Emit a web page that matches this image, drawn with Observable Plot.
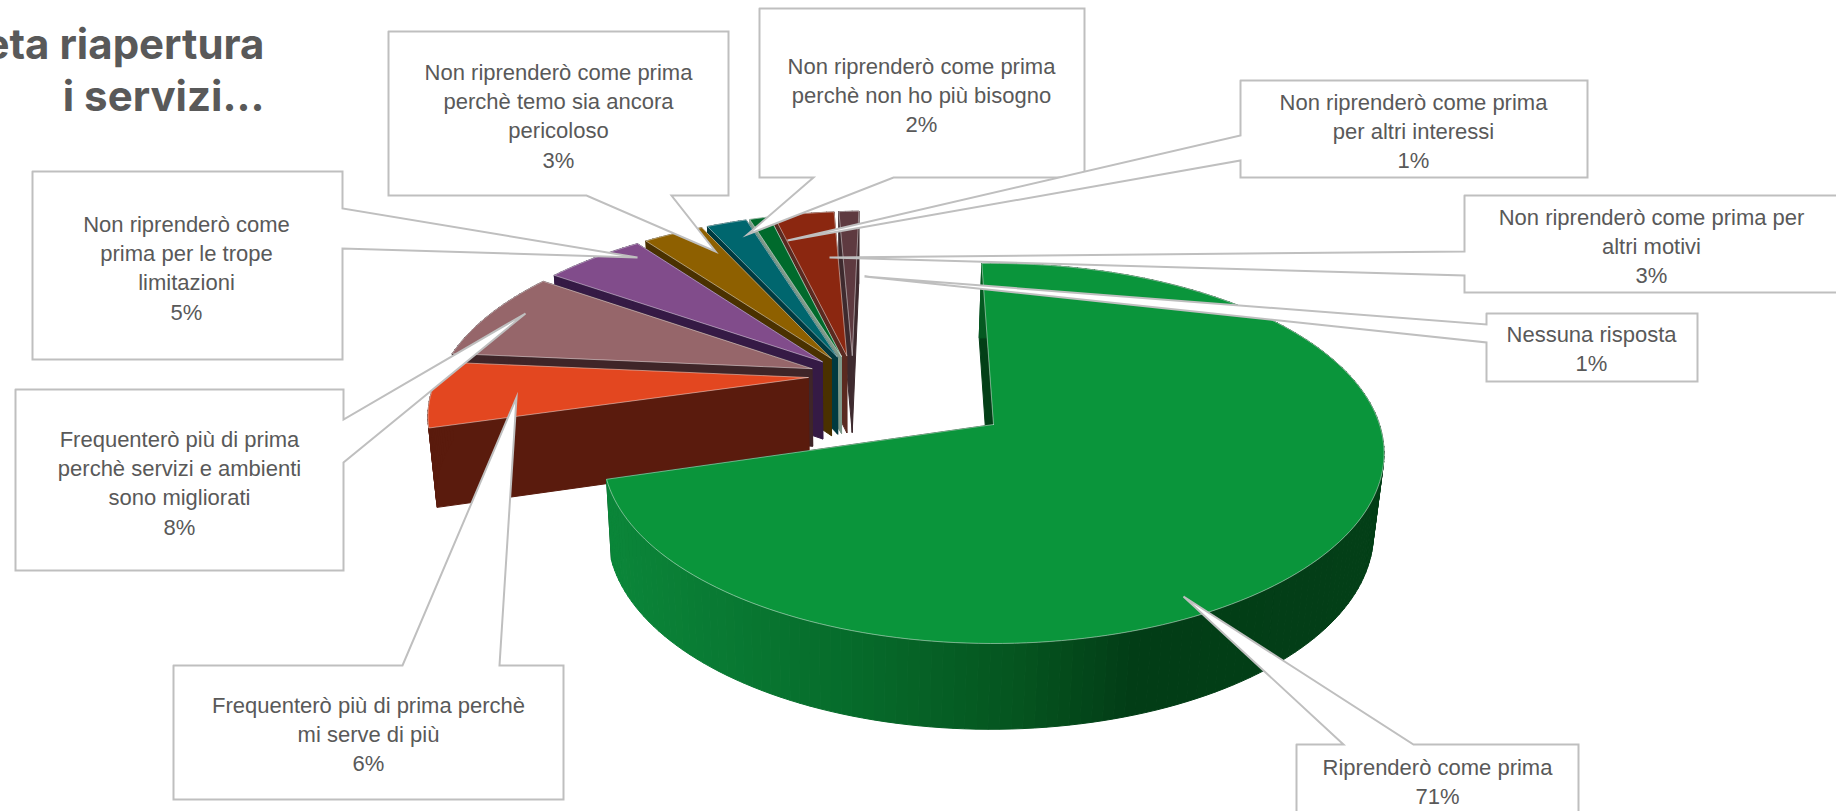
<!DOCTYPE html>
<html><head><meta charset="utf-8">
<style>html,body{margin:0;padding:0;background:#fff;overflow:hidden}svg{display:block}</style>
<script src="https://cdn.jsdelivr.net/npm/d3@7"></script>
<script src="https://cdn.jsdelivr.net/npm/@observablehq/plot@0.6"></script>
</head><body><div id="chart"></div>
<script>
// DATA
const categories = [
  "Riprenderò come prima",
  "Frequenterò più di prima perchè\nmi serve di più",
  "Frequenterò più di prima\nperchè servizi e ambienti\nsono migliorati",
  "Non riprenderò come\nprima per le trope\nlimitazioni",
  "Non riprenderò come prima\nperchè temo sia ancora\npericoloso",
  "Non riprenderò come prima\nperchè non ho più bisogno",
  "Non riprenderò come prima\nper altri interessi",
  "Non riprenderò come prima per\naltri motivi",
  "Nessuna risposta"
];
const values = [71, 6, 8, 5, 3, 2, 1, 3, 1];
const titleLines = ["eta riapertura", "i servizi..."];

// STYLE
const faceColors = ["#0A953B","#E34720","#96666A","#814C8B","#8E6000","#00666E","#006A2C","#8B2710","#5E3A40"];
const wallColors = ["#0B873A","#5A1B0D","#3F2528","#351A45","#4A3100","#003A40","#7F9A8A","#5A2A20","#3E2A2E"];
const explode = [0.47, 0.12, 0.12, 0.12, 0.12, 0.12, 0.12, 0.12, 0.12];
const startAngle = -2;
const gradientStops = [[600,"#0B873A"],[860,"#066A2A"],[1020,"#05541F"],[1135,"#023D16"],[1400,"#033F17"]];

// Perspective view of the pie
const view = {X: 993, Y: 424, A: 386, B: 185.6, k: 0.1525, cu: -0.38, cv: -0.275};
const project = (u, v) => {
  const w = 1 - view.k * v;
  return [view.X + view.A * u / w, view.Y + view.B * v / w];
};
const drop = ([x, y]) => [850 + (x - 850) * 0.98, 1.03 * y + 66.5];
const rad = (a) => a * Math.PI / 180;
const gradX = d3.scaleLinear().domain(gradientStops.map(d => d[0])).range(gradientStops.map(d => d[1])).interpolate(d3.interpolateRgb).clamp(true);

// Build slices from values
const total = d3.sum(values);
let acc = startAngle;
const slices = values.map((v, i) => {
  const a0 = acc, a1 = acc + v / total * 360; acc = a1;
  const m = (a0 + a1) / 2;
  const ox = view.cu * (i ? 1 : 0) + (i ? explode[i] * Math.sin(rad(m)) : 0);
  const oy = view.cv * (i ? 1 : 0) + (i ? -explode[i] * Math.cos(rad(m)) : 0);
  const n = Math.max(2, Math.ceil((a1 - a0) / 1.5));
  const arc = d3.range(n + 1).map(j => {
    const t = a0 + (a1 - a0) * j / n;
    return project(ox + Math.sin(rad(t)), oy - Math.cos(rad(t)));
  });
  return {i, apex: project(ox, oy), arc};
});

const rows = [];
const poly = (id, pts, fill, stroke) => {
  [...pts, pts[0]].forEach(p => rows.push({id, x: p[0], y: p[1], fill, stroke}));
};
// painter's order: back slices first, exploded main slice last
[...slices.slice(1).reverse(), slices[0]].forEach(s => {
  const wall = wallColors[s.i];
  const a = s.arc[0], b = s.arc[s.arc.length - 1];
  const darkW = s.i === 0 ? "#033F17" : wall;
  poly(`end${s.i}`, [s.apex, b, drop(b), drop(s.apex)], darkW, darkW);
  poly(`start${s.i}`, [s.apex, a, drop(a), drop(s.apex)], darkW, darkW);
  s.arc.slice(1).forEach((p, j) => {
    const q = s.arc[j];
    const c = s.i === 0 ? gradX((p[0] + q[0]) / 2) : wall;
    poly(`o${s.i}-${j}`, [q, p, drop(p), drop(q)], c, c);
  });
  poly(`face${s.i}`, [s.apex, ...s.arc], faceColors[s.i], "rgba(255,255,255,.45)");
});

// Callout layout: outline in page pixels, label centre
const calloutOrder = [4, 5, 6, 7, 8, 3, 2, 1, 0];
const calloutShapes = {
  0: {c: [1437, 780], p: [[1296,744],[1343,744],[1183,596],[1413,744],[1578,744],[1578,830],[1296,830]]},
  1: {c: [368, 732], p: [[173,665],[402,665],[516,397],[499,665],[563,665],[563,799],[173,799]]},
  2: {c: [179, 481], p: [[15,389],[343,389],[343,419],[525,313],[343,462],[343,570],[15,570]]},
  3: {c: [186, 266], p: [[32,171],[342,171],[342,208],[637,257],[342,248],[342,359],[32,359]]},
  4: {c: [558, 114], p: [[388,31],[728,31],[728,195],[671,195],[715,251],[586,195],[388,195]]},
  5: {c: [921, 93], p: [[759,8],[1084,8],[1084,177],[893,177],[747,234],[813,177],[759,177]]},
  6: {c: [1413, 129], p: [[1240,80],[1587,80],[1587,177],[1240,177],[1240,160],[787,240],[1240,135]]},
  7: {c: [1651, 244], p: [[1464,195],[1850,195],[1850,292],[1464,292],[1464,275],[829,257],[1464,251]]},
  8: {c: [1591, 347], p: [[1486,313],[1697,313],[1697,381],[1486,381],[1486,342],[864,276],[1486,324]]}
};
const calloutRows = calloutOrder.flatMap(i => {
  const pts = calloutShapes[i].p;
  return [...pts, pts[0]].map(p => ({id: i, x: p[0], y: p[1]}));
});
const labelRows = calloutOrder.map(i => ({
  x: calloutShapes[i].c[0], y: calloutShapes[i].c[1],
  text: `${categories[i]}\n${values[i]}%`
}));

const titleRows = titleLines.map((t, i) => ({t, x: 264, y: 58 + i * 52}));

const chart = Plot.plot({
  width: 1836, height: 811,
  marginTop: 0, marginRight: 0, marginBottom: 0, marginLeft: 0,
  x: {domain: [0, 1836], range: [0, 1836], axis: null},
  y: {domain: [0, 811], range: [0, 811], axis: null},
  color: {type: "identity"},
  style: {background: "#fff"},
  marks: [
    Plot.text(titleRows, {x: "x", y: "y", text: "t", textAnchor: "end", lineAnchor: "bottom",
      fontFamily: "Inter", fontWeight: 700, fontSize: 42, fill: "#595959"}),
    Plot.line(rows, {x: "x", y: "y", z: "id", fill: "fill", stroke: "stroke", strokeWidth: 1, curve: "linear"}),
    Plot.line(calloutRows, {x: "x", y: "y", z: "id", fill: "#fff", stroke: "#BFBFBF", strokeWidth: 2, curve: "linear", strokeLinejoin: "miter", strokeMiterlimit: 10}),
    Plot.text(labelRows, {x: "x", y: "y", text: "text", fontFamily: "Liberation Sans", fontSize: 22, lineHeight: 1.33, fill: "#595959"})
  ]
});
document.getElementById("chart").appendChild(chart);
</script></body></html>
